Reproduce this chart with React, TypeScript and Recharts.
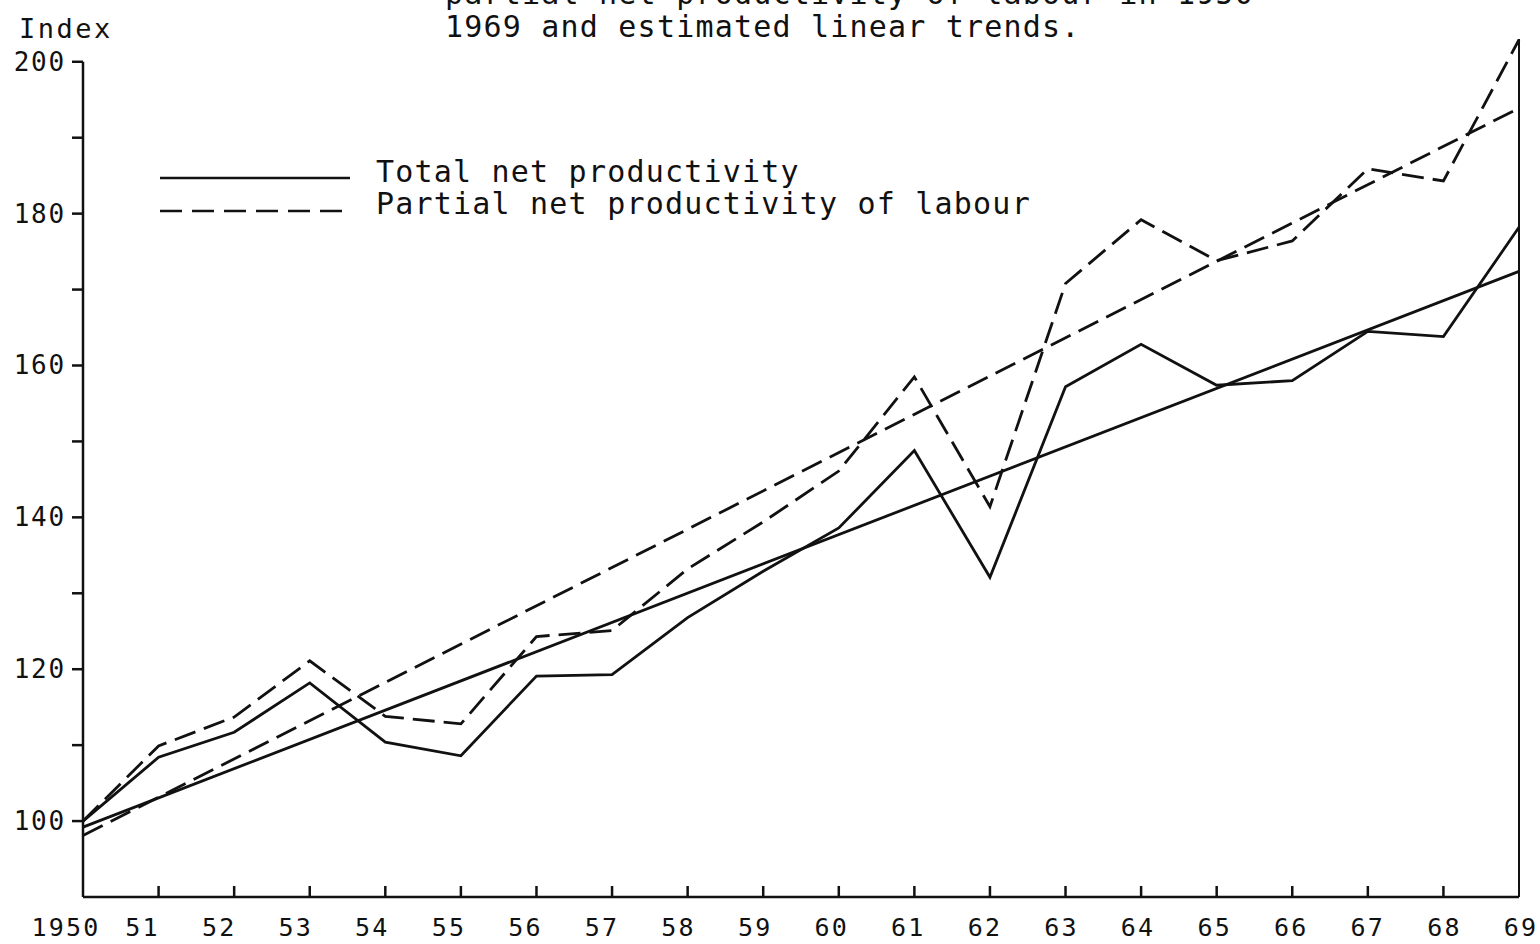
import React from 'react';
import { LineChart, Line, XAxis, YAxis, ReferenceLine } from 'recharts';

const years = [1950, 1951, 1952, 1953, 1954, 1955, 1956, 1957, 1958, 1959, 1960, 1961, 1962, 1963, 1964, 1965, 1966, 1967, 1968, 1969];
const totalNet = [100, 108.4, 111.7, 118.2, 110.4, 108.6, 119.1, 119.3, 126.8, 132.9, 138.6, 148.8, 132.1, 157.2, 162.8, 157.4, 158.0, 164.5, 163.8, 178.2];
const partialLabour = [100, 109.9, 113.7, 121.1, 113.8, 112.8, 124.3, 125.1, 133.2, 139.4, 146.1, 158.5, 141.4, 170.8, 179.2, 173.8, 176.4, 185.9, 184.3, 202.9];
const trendYears = [1950, 1969];
const totalTrend = [99.2, 172.4];
const partialTrend = [98.1, 193.9];
const yTicks = [100, 110, 120, 130, 140, 150, 160, 170, 180, 190, 200];

const titleLines = ['partial net productivity of labour in 1950-', '1969 and estimated linear trends.'];
const legendLabels = ['Total net productivity', 'Partial net productivity of labour'];

const data = years.map((year, i) => {
  const ti = trendYears.indexOf(year);
  return {
    year,
    total: totalNet[i],
    partial: partialLabour[i],
    totalTrend: ti >= 0 ? totalTrend[ti] : null,
    partialTrend: ti >= 0 ? partialTrend[ti] : null,
  };
});

const FONT = '"DejaVu Sans Mono", "Liberation Mono", monospace';
const INK = '#111';
const DASH = '22 9';
const SW = 2.8;

const XTick = (props: any) => {
  const { x, y, payload } = props;
  const v = payload.value as number;
  const label = v === 1950 ? '1950' : String(v).slice(2);
  const shift = -17 + (v - 1950) * 1.0;
  return (
    <g>
      {v > 1950 && v < 1969 && (
        <line x1={x} x2={x} y1={y} y2={y - 11} stroke={INK} strokeWidth={2.5} />
      )}
      <text
        x={x + shift}
        y={y + 39}
        textAnchor="middle"
        fontFamily={FONT}
        fontSize={25}
        letterSpacing={2.2}
        fill={INK}
      >
        {label}
      </text>
    </g>
  );
};

const YTick = (props: any) => {
  const { x, y, payload } = props;
  const v = payload.value as number;
  if (v % 20 !== 0) return <g />;
  return (
    <text
      x={x}
      y={y + 9}
      textAnchor="end"
      fontFamily={FONT}
      fontSize={26}
      letterSpacing={1.8}
      fill={INK}
    >
      {v}
    </text>
  );
};

export default function App() {
  return (
    <div style={{ position: 'fixed', top: 0, left: 0, width: 1540, height: 944, background: '#fff' }}>
      <LineChart
        width={1540}
        height={944}
        data={data}
        margin={{ top: 39, right: 21, bottom: 0, left: 0 }}
      >
        <XAxis
          dataKey="year"
          type="number"
          domain={[1950, 1969]}
          ticks={years}
          interval={0}
          height={47}
          tickSize={0}
          tickMargin={0}
          tickLine={false}
          axisLine={{ stroke: INK, strokeWidth: 2.5 }}
          tick={<XTick />}
        />
        <YAxis
          type="number"
          domain={[90, 203]}
          allowDataOverflow
          ticks={yTicks}
          interval={0}
          width={83}
          axisLine={false}
          tickSize={11}
          tickMargin={6}
          tickLine={{ stroke: INK, strokeWidth: 2.5 }}
          tick={<YTick />}
        />
        <ReferenceLine
          segment={[{ x: 1950, y: 90 }, { x: 1950, y: 200 }]}
          stroke={INK}
          strokeWidth={2.5}
        />
        <ReferenceLine x={1969} stroke={INK} strokeWidth={2} />
        <Line
          dataKey="totalTrend"
          stroke={INK}
          strokeWidth={SW}
          dot={false}
          connectNulls
          isAnimationActive={false}
        />
        <Line
          dataKey="partialTrend"
          stroke={INK}
          strokeWidth={SW}
          strokeDasharray={DASH}
          dot={false}
          connectNulls
          isAnimationActive={false}
        />
        <Line
          dataKey="total"
          type="linear"
          stroke={INK}
          strokeWidth={SW}
          dot={false}
          isAnimationActive={false}
        />
        <Line
          dataKey="partial"
          type="linear"
          stroke={INK}
          strokeWidth={SW}
          strokeDasharray={DASH}
          dot={false}
          isAnimationActive={false}
        />
      </LineChart>
      <svg
        width={1540}
        height={944}
        style={{ position: 'absolute', top: 0, left: 0, pointerEvents: 'none' }}
      >
        <text x={445} y={4} fontFamily={FONT} fontSize={30} letterSpacing={1.2} fill={INK}>
          {titleLines[0]}
        </text>
        <text x={445} y={37} fontFamily={FONT} fontSize={30} letterSpacing={1.2} fill={INK}>
          {titleLines[1]}
        </text>
        <text x={19} y={38} fontFamily={FONT} fontSize={27} letterSpacing={2.5} fill={INK}>
          Index
        </text>
        <line x1={160} x2={350} y1={178} y2={178} stroke={INK} strokeWidth={2.5} />
        <line x1={160} x2={350} y1={211} y2={211} stroke={INK} strokeWidth={2.5} strokeDasharray="22 10" />
        <text x={376} y={182} fontFamily={FONT} fontSize={30} letterSpacing={1.2} fill={INK}>
          {legendLabels[0]}
        </text>
        <text x={376} y={214} fontFamily={FONT} fontSize={30} letterSpacing={1.2} fill={INK}>
          {legendLabels[1]}
        </text>
      </svg>
    </div>
  );
}
